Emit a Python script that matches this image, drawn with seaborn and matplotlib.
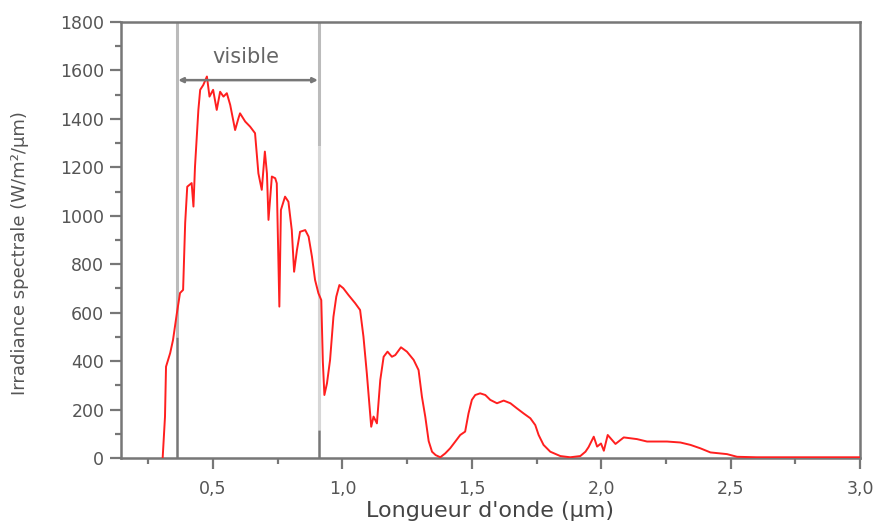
import matplotlib
matplotlib.use("Agg")
import matplotlib.pyplot as plt
import seaborn as sns
import pandas as pd
from matplotlib.ticker import MultipleLocator, FixedLocator

# ---- data ----
wavelength = [0.305, 0.314, 0.318, 0.334, 0.345, 0.36, 0.372, 0.384, 0.392, 0.40,
              0.417, 0.424, 0.43, 0.443, 0.45, 0.462, 0.476, 0.486, 0.50, 0.514,
              0.527, 0.54, 0.553, 0.566, 0.585, 0.598, 0.604, 0.624, 0.643, 0.662,
              0.675, 0.688, 0.70, 0.708, 0.714, 0.727, 0.74, 0.746, 0.756, 0.762,
              0.778, 0.791, 0.804, 0.813, 0.824, 0.836, 0.856, 0.869, 0.882, 0.894,
              0.907, 0.918, 0.924, 0.93, 0.94, 0.952, 0.965, 0.976, 0.988, 1.003,
              1.023, 1.049, 1.068, 1.081, 1.094, 1.111, 1.12, 1.133, 1.146, 1.159,
              1.174, 1.191, 1.204, 1.226, 1.249, 1.275, 1.294, 1.307, 1.32, 1.333,
              1.346, 1.36, 1.378, 1.397, 1.416, 1.436, 1.455, 1.474, 1.487, 1.50,
              1.513, 1.532, 1.552, 1.571, 1.597, 1.623, 1.649, 1.674, 1.70, 1.726,
              1.745, 1.758, 1.777, 1.803, 1.842, 1.88, 1.919, 1.939, 1.951, 1.971,
              1.984, 1.999, 2.01, 2.025, 2.055, 2.087, 2.138, 2.177, 2.254, 2.306,
              2.345, 2.383, 2.422, 2.486, 2.525, 2.6, 3.0]
irradiance = [0, 170, 377, 433, 487, 598, 681, 694, 970, 1120,
              1135, 1038, 1203, 1437, 1520, 1540, 1575, 1492, 1520, 1437,
              1512, 1492, 1506, 1458, 1354, 1403, 1423, 1389, 1368, 1341,
              1175, 1107, 1265, 1175, 983, 1162, 1155, 1134, 625, 1024,
              1079, 1058, 941, 769, 859, 934, 941, 914, 831, 735,
              680, 652, 400, 260, 308, 405, 583, 666, 714, 701,
              673, 639, 611, 501, 350, 129, 171, 143, 322, 418,
              439, 418, 425, 457, 439, 405, 363, 253, 170, 70,
              26, 12, 3, 19, 40, 68, 95, 109, 184, 240,
              260, 267, 260, 240, 226, 237, 226, 205, 184, 164,
              136, 95, 54, 26, 8, 3, 8, 26, 45, 88,
              47, 60, 30, 95, 58, 85, 78, 68, 68, 64,
              54, 40, 23, 16, 5, 3, 3]

visible_bounds = [0.36, 0.91]
visible_label = "visible"
visible_arrow_level = 1560
visible_text_level = 1655

x_ticks = [0.5, 1.0, 1.5, 2.0, 2.5, 3.0]
x_tick_labels = ["0,5", "1,0", "1,5", "2,0", "2,5", "3,0"]
y_ticks = [0, 200, 400, 600, 800, 1000, 1200, 1400, 1600, 1800]

x_label = "Longueur d'onde (µm)"
y_label = "Irradiance spectrale (W/m²/µm)"

df = pd.DataFrame({"wl": wavelength, "irr": irradiance})

# ---- styling ----
sns.set_theme(style="ticks")
plt.rcParams["font.family"] = ["DejaVu Sans"]
gray = "#777777"
txt = "#555555"

fig = plt.figure(figsize=(8.73, 5.23), dpi=100)
ax = fig.add_axes([121 / 873, 1 - 458 / 523, (860 - 121) / 873, (458 - 22) / 523])

# visible band boundary lines
lo, hi = visible_bounds
ax.vlines(lo, 500, 1800, color="#bbbbbb", lw=2.2, zorder=1)
ax.vlines(lo, 0, 500, color=gray, lw=1.8, zorder=1)
ax.vlines(hi, 1290, 1800, color="#bbbbbb", lw=2.2, zorder=1)
ax.vlines(hi, 115, 1290, color="#d6d6d6", lw=2.2, zorder=1)
ax.vlines(hi, 0, 115, color=gray, lw=1.8, zorder=1)

sns.lineplot(data=df, x="wl", y="irr", ax=ax, color="#ff1f1f", lw=1.4,
             sort=False, zorder=3)

ax.annotate("", xy=(lo + 0.005, visible_arrow_level), xytext=(hi - 0.005, visible_arrow_level),
            arrowprops=dict(arrowstyle="<|-|>", color=gray, lw=1.8,
                            mutation_scale=7, shrinkA=0, shrinkB=0), zorder=4)
ax.text((lo + hi) / 2 - 0.01, visible_text_level, visible_label, ha="center", va="center",
        fontsize=15, color="#666666")

ax.set_xlim(0.144, 3.0)
ax.set_ylim(0, 1800)
ax.xaxis.set_major_locator(FixedLocator(x_ticks))
ax.set_xticklabels(x_tick_labels)
ax.xaxis.set_minor_locator(MultipleLocator(0.25))
ax.yaxis.set_major_locator(FixedLocator(y_ticks))
ax.yaxis.set_minor_locator(MultipleLocator(100))

for s in ax.spines.values():
    s.set_visible(True)
    s.set_color(gray)
    s.set_linewidth(1.8)

ax.tick_params(which="major", direction="out", length=8, width=1.6, color=gray,
               labelcolor=txt, labelsize=12.5, pad=4)
ax.tick_params(which="minor", direction="out", length=4, width=1.6, color=gray)
ax.tick_params(axis="x", which="major", pad=8)

ax.set_xlabel(x_label, fontsize=16, color="#444444")
ax.xaxis.set_label_coords(0.5, -0.098)
ax.set_ylabel(y_label, fontsize=13, color=txt)
ax.yaxis.set_label_coords(-0.125, 0.47)

fig.savefig("out.png", dpi=100, facecolor="white")
